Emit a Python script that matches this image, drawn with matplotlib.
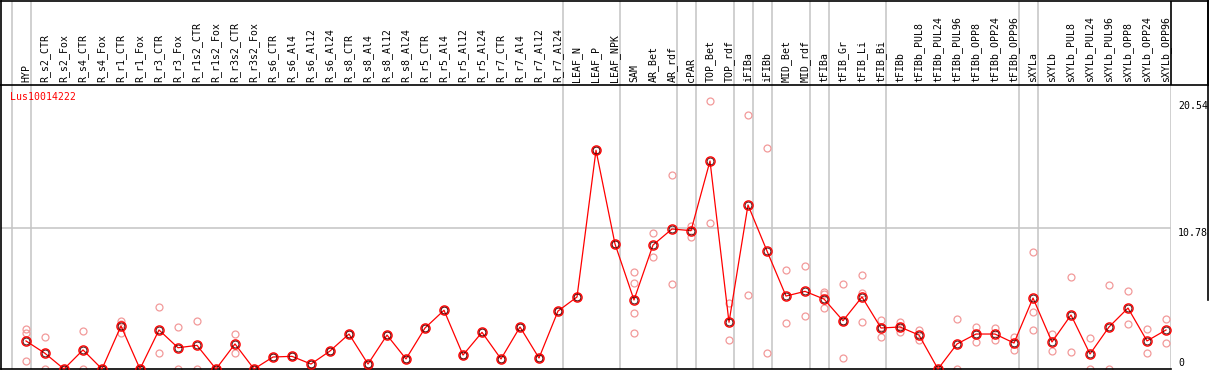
import matplotlib
matplotlib.use("Agg")
import matplotlib.pyplot as plt
import matplotlib.transforms as mtransforms

# --- data ---
gene = "Lus10014222"

categories = [
    "HYP", "R_s2_CTR", "R_s2_Fox", "R_s4_CTR", "R_s4_Fox", "R_r1_CTR", "R_r1_Fox",
    "R_r3_CTR", "R_r3_Fox", "R_r1s2_CTR", "R_r1s2_Fox", "R_r3s2_CTR", "R_r3s2_Fox",
    "R_s6_CTR", "R_s6_Al4", "R_s6_Al12", "R_s6_Al24", "R_s8_CTR", "R_s8_Al4",
    "R_s8_Al12", "R_s8_Al24", "R_r5_CTR", "R_r5_Al4", "R_r5_Al12", "R_r5_Al24",
    "R_r7_CTR", "R_r7_Al4", "R_r7_Al12", "R_r7_Al24", "LEAF_N", "LEAF_P", "LEAF_NPK",
    "SAM", "AR_Bet", "AR_rdf", "cPAR", "TOP_Bet", "TOP_rdf", "iFIBa", "iFIBb",
    "MID_Bet", "MID_rdf", "tFIBa", "tFIB_Gr", "tFIB_Li", "tFIB_Bi", "tFIBb",
    "tFIBb_PUL8", "tFIBb_PUL24", "tFIBb_PUL96", "tFIBb_OPP8", "tFIBb_OPP24",
    "tFIBb_OPP96", "sXYLa", "sXYLb", "sXYLb_PUL8", "sXYLb_PUL24", "sXYLb_PUL96",
    "sXYLb_OPP8", "sXYLb_OPP24", "sXYLb_OPP96",
]

means = [
    2.15, 1.20, 0, 1.46, 0, 3.30, 0, 2.99, 1.63, 1.81, 0, 1.92, 0,
    0.92, 0.97, 0.38, 1.38, 2.68, 0.38, 2.60, 0.77, 3.14, 4.50, 1.07, 2.81,
    0.77, 3.22, 0.84, 4.44, 5.52, 16.76, 9.58,
    5.29, 9.50, 10.73, 10.60, 15.94, 3.58, 12.57, 9.04, 5.59, 5.95,
    5.36, 3.70, 5.52, 3.14, 3.22, 2.60, 0, 1.92, 2.68, 2.68, 1.99,
    5.44, 2.07, 4.14, 1.15, 3.22, 4.67, 2.15, 2.99,
]

replicates = [
    [3.07, 2.76, 0.61], [2.45, 0], [0, 0], [2.91, 0], [0, 0], [3.68, 3.46, 2.76],
    [0, 0], [4.73, 1.20], [3.22, 0], [3.68, 0], [0, 0], [2.66, 1.20], [0, 0],
    [0.92], [0.97], [0.38], [1.38], [2.68], [0.38], [2.60], [0.77], [3.14],
    [4.50], [1.07], [2.81], [0.77], [3.22], [0.84], [4.44], [5.52], [16.76], [9.58],
    [7.41, 6.57, 4.27, 2.74], [10.40, 8.56], [14.84, 6.49], [10.96, 10.14],
    [20.54, 11.16], [5.03, 2.22], [19.50, 5.67], [16.90, 1.20], [7.56, 3.49],
    [7.87, 4.04], [5.88, 5.72, 4.65], [6.49, 3.70, 0.81], [7.18, 5.80, 3.58],
    [3.74, 3.22, 2.44], [3.61, 3.22, 2.81], [2.97, 2.20], [0, 0], [3.86, 0],
    [3.24, 2.07], [3.14, 2.22], [2.45, 1.46], [8.94, 4.34, 2.99], [2.68, 1.38],
    [7.03, 1.28], [2.37, 0], [6.41, 0], [5.95, 3.42], [3.04, 1.20], [3.86, 2.02],
]

# last sample of each group (group separators drawn after these)
group_ends = [-1, 0, 28, 31, 34, 35, 37, 38, 39, 41, 42, 45, 52, 53]
y_ticks = [0, 10.78, 20.54]

assert len(categories) == len(means) == len(replicates)

W, H = 1209, 370
fig = plt.figure(figsize=(W / 100, H / 100), dpi=100)
mono = "DejaVu Sans Mono"
fs = 7.1

# pixel layout
px_step = 19.0
x_first = 26.0
left_px, right_px = 1, 1171
head_bot = 85
plot_bot = 369
xmin = (left_px - x_first) / px_step
xmax = (right_px - x_first) / px_step
ymax = (plot_bot - head_bot) / 13.05

ax = fig.add_axes([left_px / W, (H - plot_bot) / H,
                   (right_px - left_px) / W, (plot_bot - head_bot) / H])
ax.set_xlim(xmin, xmax)
ax.set_ylim(0, ymax)
ax.set_xticks([])
ax.set_yticks([])
for s in ["top", "right"]:
    ax.spines[s].set_visible(False)
for s in ["left", "bottom"]:
    ax.spines[s].set_color("black")
    ax.spines[s].set_linewidth(1.2)

grid_c = "#c4c4c4"
for g in group_ends:
    ax.axvline(g + 0.25, color=grid_c, lw=1.1, zorder=0)
ax.axvline(xmax - 0.01, color=grid_c, lw=1.1, zorder=0)
ax.axhline(y_ticks[1], color=grid_c, lw=1.1, zorder=0)

xs = list(range(len(categories)))

# replicate points
rx, ry = [], []
for i, reps in enumerate(replicates):
    for v in reps:
        rx.append(i)
        ry.append(v)
ax.plot(rx, ry, ls="none", marker="o", ms=5.0, mfc="none", mec="#f29a9a",
        mew=0.9, zorder=2, clip_on=False)

# mean line
ax.plot(xs, means, color="red", lw=0.9, zorder=3, clip_on=False)
ax.plot(xs, means, ls="none", marker="o", ms=6.6, mfc="none", mec="red",
        mew=1.0, zorder=4, clip_on=False)
ax.plot(xs, means, ls="none", marker="o", ms=4.9, mfc="none", mec="#400000",
        mew=0.6, zorder=5, clip_on=False)

ax.text(9 / (right_px - left_px), 1 - 12.5 / (plot_bot - head_bot), gene,
        transform=ax.transAxes, color="red", fontsize=fs, family=mono,
        ha="left", va="center")

# value labels on the right
trans = mtransforms.blended_transform_factory(ax.transAxes, ax.transData)
lab_x = (1178 - left_px) / (right_px - left_px)
ax.text(lab_x, y_ticks[2], f"{y_ticks[2]:g}", transform=trans, fontsize=fs,
        family=mono, ha="left", va="top", clip_on=False)
ax.text(lab_x, y_ticks[1], f"{y_ticks[1]:g}", transform=trans, fontsize=fs,
        family=mono, ha="left", va="top", clip_on=False)
ax.text(lab_x, 0.1, f"{y_ticks[0]:g}", transform=trans, fontsize=fs,
        family=mono, ha="left", va="bottom", clip_on=False)

# header with sample names
hax = fig.add_axes([left_px / W, (H - head_bot) / H, (1208 - left_px) / W,
                    (head_bot - 0.5) / H])
hax.set_xlim(xmin, xmin + (1208 - left_px) / px_step)
hax.set_ylim(0, 1)
hax.set_xticks([])
hax.set_yticks([])
for s in hax.spines.values():
    s.set_color("black")
    s.set_linewidth(1.2)
for g in group_ends:
    hax.axvline(g + 0.25, color=grid_c, lw=1.1, zorder=0)
hax.axvline(xmax, color="black", lw=1.2)
for i, name in enumerate(categories):
    hax.text(i, 0.03, name, rotation=90, ha="center", va="bottom",
             fontsize=fs, family=mono)

# right frame edge beside the value labels
fig.add_artist(plt.Line2D([1208 / W, 1208 / W], [(H - 300) / H, 1],
                          transform=fig.transFigure, color="black", lw=1.2))

fig.savefig("out.png", dpi=100)
